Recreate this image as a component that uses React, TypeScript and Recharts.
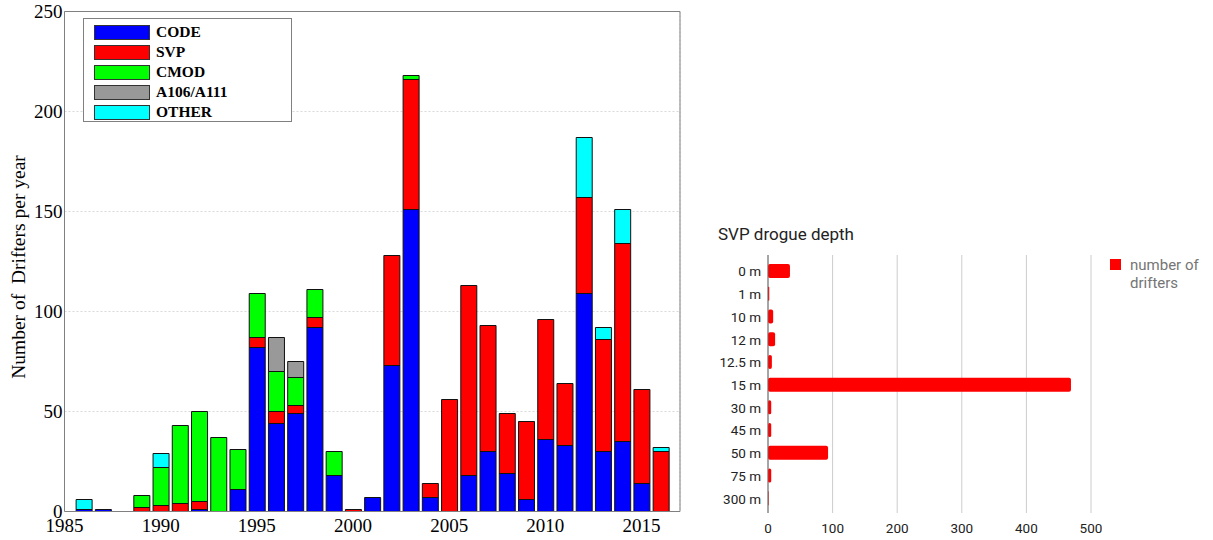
import React from 'react';
import { BarChart, Bar, XAxis, YAxis, CartesianGrid, Legend, Label } from 'recharts';

// ---- Left chart: drifters per year by type ----
const years = [1986, 1987, 1988, 1989, 1990, 1991, 1992, 1993, 1994, 1995, 1996, 1997, 1998, 1999, 2000, 2001, 2002, 2003, 2004, 2005, 2006, 2007, 2008, 2009, 2010, 2011, 2012, 2013, 2014, 2015, 2016];
const codeVals = [1, 1, 0, 0, 0, 0, 1, 0, 11, 82, 44, 49, 92, 18, 0, 7, 73, 151, 7, 0, 18, 30, 19, 6, 36, 33, 109, 30, 35, 14, 0];
const svpVals = [0, 0, 0, 2, 3, 4, 4, 0, 0, 5, 6, 4, 5, 0, 1, 0, 55, 65, 7, 56, 95, 63, 30, 39, 60, 31, 48, 56, 99, 47, 30];
const cmodVals = [0, 0, 0, 6, 19, 39, 45, 37, 20, 22, 20, 14, 14, 12, 0, 0, 0, 2, 0, 0, 0, 0, 0, 0, 0, 0, 0, 0, 0, 0, 0];
const a106Vals = [0, 0, 0, 0, 0, 0, 0, 0, 0, 0, 17, 8, 0, 0, 0, 0, 0, 0, 0, 0, 0, 0, 0, 0, 0, 0, 0, 0, 0, 0, 0];
const otherVals = [5, 0, 0, 0, 7, 0, 0, 0, 0, 0, 0, 0, 0, 0, 0, 0, 0, 0, 0, 0, 0, 0, 0, 0, 0, 0, 30, 6, 17, 0, 2];

const seriesNames = ['CODE', 'SVP', 'CMOD', 'A106/A111', 'OTHER'];
const seriesKeys = ['CODE', 'SVP', 'CMOD', 'A106', 'OTHER'];
const seriesColors = ['#0000ff', '#ff0000', '#00ff00', '#999999', '#00ffff'];

const yearTickLabels = [1985, 1990, 1995, 2000, 2005, 2010, 2015];
const allYearTicks = [1985, 1986, 1987, 1988, 1989, 1990, 1991, 1992, 1993, 1994, 1995, 1996, 1997, 1998, 1999, 2000, 2001, 2002, 2003, 2004, 2005, 2006, 2007, 2008, 2009, 2010, 2011, 2012, 2013, 2014, 2015, 2016, 2017];
const countTicks = [0, 50, 100, 150, 200, 250];

// ---- Right chart: SVP drogue depth ----
const depths = ['0 m', '1 m', '10 m', '12 m', '12.5 m', '15 m', '30 m', '45 m', '50 m', '75 m', '300 m'];
const depthCounts = [34, 2, 8, 11, 6, 469, 5, 5, 93, 5, 1];
const depthTicks = [0, 100, 200, 300, 400, 500];

const yearData = years.map((year, i) => ({
  year,
  CODE: codeVals[i],
  SVP: svpVals[i],
  CMOD: cmodVals[i],
  A106: a106Vals[i],
  OTHER: otherVals[i],
}));

const depthData = depths.map((depth, i) => ({ depth, count: depthCounts[i] }));

const serif = '"Liberation Serif", "Times New Roman", serif';
const sans = 'Roboto, "Noto Sans", sans-serif';
const boxGray = '#808080';

const LeftLegend = () => (
  <div
    style={{
      width: 209,
      height: 104,
      boxSizing: 'border-box',
      border: `1px solid ${boxGray}`,
      background: '#fff',
      paddingTop: 3,
    }}
  >
    {seriesNames.map((name, i) => (
      <div key={name} style={{ display: 'flex', alignItems: 'center', height: 20 }}>
        <div
          style={{
            marginLeft: 10,
            width: 56,
            height: 15,
            boxSizing: 'border-box',
            border: '1px solid #333',
            background: seriesColors[i],
          }}
        />
        <div
          style={{
            marginLeft: 6,
            fontFamily: serif,
            fontWeight: 'bold',
            fontSize: 15.5,
            color: '#000',
            lineHeight: '20px',
          }}
        >
          {name}
        </div>
      </div>
    ))}
  </div>
);

const RightLegend = () => (
  <div style={{ display: 'flex', alignItems: 'flex-start' }}>
    <div style={{ width: 11, height: 11, background: '#ff0000', marginTop: 0 }} />
    <div
      style={{
        marginLeft: 9,
        marginTop: -3,
        fontFamily: sans,
        fontSize: 15,
        lineHeight: '18px',
        color: '#757575',
        whiteSpace: 'nowrap',
      }}
    >
      number of
      <br />
      drifters
    </div>
  </div>
);

const DepthTick = (props: any) => {
  const { x, y, payload } = props;
  return (
    <text
      x={x}
      y={y}
      textAnchor="end"
      dominantBaseline="central"
      style={{ fontFamily: sans, fontSize: 13.5, fill: '#222' }}
    >
      {payload.value}
    </text>
  );
};

const CountTick = (props: any) => {
  const { x, y, payload } = props;
  return (
    <text
      x={x}
      y={y + 19}
      textAnchor="middle"
      style={{ fontFamily: sans, fontSize: 13.5, fill: '#222' }}
    >
      {payload.value}
    </text>
  );
};

export default function App() {
  return (
    <div style={{ position: 'absolute', left: 0, top: 0, width: 1213, height: 540, background: '#fff' }}>
      <div style={{ position: 'absolute', left: 0, top: 0 }}>
        <BarChart
          width={700}
          height={540}
          data={yearData}
          margin={{ top: 11.5, right: 20, bottom: 0, left: 0 }}
        >
          <CartesianGrid xAxisId="top" stroke="#d9d9d9" strokeDasharray="2 2" />
          <XAxis
            dataKey="year"
            type="number"
            domain={[1985, 2017]}
            ticks={yearTickLabels}
            height={28.5}
            tickSize={0}
            tickMargin={7}
            tickLine={false}
            axisLine={{ stroke: boxGray }}
            tick={{ fontFamily: serif, fontSize: 19, fill: '#000' }}
          />
          <XAxis
            xAxisId="top"
            type="number"
            orientation="top"
            mirror
            domain={[1985, 2017]}
            ticks={allYearTicks}
            tick={false}
            tickSize={5}
            tickLine={{ stroke: boxGray }}
            axisLine={{ stroke: boxGray }}
          />
          <XAxis
            xAxisId="botin"
            type="number"
            orientation="bottom"
            mirror
            domain={[1985, 2017]}
            ticks={allYearTicks}
            tick={false}
            tickSize={5}
            tickLine={{ stroke: boxGray }}
            axisLine={false}
          />
          <YAxis
            type="number"
            domain={[0, 250]}
            ticks={countTicks}
            width={64.5}
            tickSize={0}
            tickMargin={2}
            tickLine={false}
            axisLine={{ stroke: boxGray }}
            tick={{ fontFamily: serif, fontSize: 19, fill: '#000' }}
          >
            <Label
              content={() => (
                <text
                  x={25}
                  y={267}
                  transform="rotate(-90 25 267)"
                  textAnchor="middle"
                  style={{ fontFamily: serif, fontSize: 19.5, fill: '#000', whiteSpace: 'pre' }}
                >
                  {'Number of  Drifters per year'}
                </text>
              )}
            />
          </YAxis>
          <YAxis
            yAxisId="right"
            type="number"
            orientation="right"
            mirror
            domain={[0, 250]}
            ticks={countTicks}
            tick={false}
            tickSize={5}
            tickLine={{ stroke: boxGray }}
            axisLine={{ stroke: boxGray }}
          />
          <YAxis
            yAxisId="leftin"
            type="number"
            orientation="left"
            mirror
            domain={[0, 250]}
            ticks={countTicks}
            tick={false}
            tickSize={5}
            tickLine={{ stroke: boxGray }}
            axisLine={false}
          />
          <Legend
            layout="horizontal"
            verticalAlign="middle"
            align="center"
            wrapperStyle={{ left: 83, top: 18, width: 209, height: 104 }}
            content={() => <LeftLegend />}
          />
          {seriesKeys.map((key, i) => (
            <Bar
              key={key}
              dataKey={key}
              name={seriesNames[i]}
              stackId="a"
              fill={seriesColors[i]}
              stroke="#111"
              strokeWidth={1}
              barSize={16}
              isAnimationActive={false}
            />
          ))}
        </BarChart>
      </div>

      <div
        style={{
          position: 'absolute',
          left: 718,
          top: 224,
          fontFamily: sans,
          fontSize: 17,
          lineHeight: '20px',
          color: '#222',
          whiteSpace: 'nowrap',
        }}
      >
        SVP drogue depth
      </div>

      <div style={{ position: 'absolute', left: 700, top: 210 }}>
        <BarChart
          width={513}
          height={330}
          layout="vertical"
          data={depthData}
          margin={{ top: 45, right: 122, bottom: 0, left: 0 }}
        >
          <CartesianGrid horizontal={false} stroke="#cccccc" />
          <XAxis
            type="number"
            domain={[0, 500]}
            ticks={depthTicks}
            height={27}
            tickSize={0}
            tickMargin={1}
            tickLine={false}
            axisLine={false}
            tick={<CountTick />}
          />
          <YAxis
            type="category"
            dataKey="depth"
            width={68}
            padding={{ top: 5, bottom: 3 }}
            tickSize={0}
            tickMargin={7}
            tickLine={false}
            axisLine={{ stroke: '#666' }}
            tick={<DepthTick />}
            interval={0}
          />
          <Legend
            layout="horizontal"
            verticalAlign="middle"
            align="center"
            wrapperStyle={{ left: 410, top: 49, width: 100, height: 40 }}
            content={() => <RightLegend />}
          />
          <Bar
            dataKey="count"
            name="number of drifters"
            fill="#ff0000"
            barSize={14}
            radius={2}
            isAnimationActive={false}
          />
        </BarChart>
      </div>
    </div>
  );
}
